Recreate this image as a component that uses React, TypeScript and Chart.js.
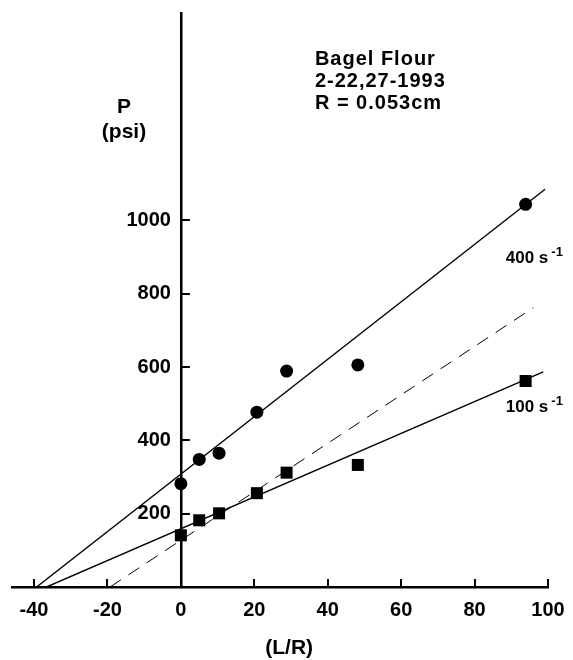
import React, { useEffect, useRef } from "react";
import { Chart, registerables } from "chart.js";

Chart.register(...registerables);

// ---- data ----
const xTickValues = [-40, -20, 0, 20, 40, 60, 80, 100];
const yTickValues = [200, 400, 600, 800, 1000];

const lOverR = [0, 5.0, 10.4, 20.7, 28.8, 48.2, 93.9];
const p400 = [282, 348, 365, 477, 589, 606, 1044];
const p100 = [141, 182, 201, 256, 312, 333, 562];

const fit400X = [-39.3, 99.2];
const fit400Y = [0, 1085];
const fit100X = [-36.6, 98.7];
const fit100Y = [0, 587];
const dashX = [-19.3, 96.0];
const dashY = [0, 762];

const titleLines = ["Bagel Flour", "2-22,27-1993", "R = 0.053cm"];
const yAxisTitle = ["P", "(psi)"];
const xAxisTitle = "(L/R)";
const rateLabels = ["400 s", "100 s"];
const rateSup = "-1";

// ---- layout / style (not data) ----
const FONT = '"Liberation Sans", Arial, Helvetica, sans-serif';
const X_MIN = -46;
const X_MAX = 100;
const Y_MAX = 1566;
const titlePos = { x: 36.5, y: [1439, 1379, 1319] };
const yTitlePos = { x: -15.5, y: [1308, 1240] };
const xTitlePos = { x: 29.5, y: -168 };
const ratePos = { x: 88.5, y: [896, 490] };

const pts = (xs: number[], ys: number[]) => xs.map((x, i) => ({ x, y: ys[i] }));

const overlay = {
  id: "overlay",
  afterDraw(chart: any) {
    const { ctx, scales } = chart;
    const xs = scales.x;
    const ys = scales.y;
    ctx.save();
    ctx.strokeStyle = "#000";
    ctx.fillStyle = "#000";
    ctx.lineWidth = 2;
    const x0 = xs.getPixelForValue(0);
    const y0 = ys.getPixelForValue(0);
    xTickValues.forEach((v) => {
      if (v === 0) return;
      const px = Math.round(xs.getPixelForValue(v));
      ctx.beginPath();
      ctx.moveTo(px, y0);
      ctx.lineTo(px, y0 - 8);
      ctx.stroke();
    });
    yTickValues.forEach((v) => {
      const py = Math.round(ys.getPixelForValue(v));
      ctx.beginPath();
      ctx.moveTo(x0, py);
      ctx.lineTo(x0 + 9, py);
      ctx.stroke();
    });

    ctx.textBaseline = "middle";
    // title block
    ctx.font = `bold 20px ${FONT}`;
    (ctx as any).letterSpacing = "1px";
    ctx.textAlign = "left";
    titleLines.forEach((t, i) => {
      ctx.fillText(t, xs.getPixelForValue(titlePos.x), ys.getPixelForValue(titlePos.y[i]));
    });
    (ctx as any).letterSpacing = "0px";
    // y axis title
    ctx.textAlign = "center";
    ctx.font = `bold 21px ${FONT}`;
    yAxisTitle.forEach((t, i) => {
      ctx.fillText(t, xs.getPixelForValue(yTitlePos.x), ys.getPixelForValue(yTitlePos.y[i]));
    });
    // x axis title
    ctx.fillText(xAxisTitle, xs.getPixelForValue(xTitlePos.x), ys.getPixelForValue(xTitlePos.y));
    // rate labels
    ctx.textAlign = "left";
    rateLabels.forEach((t, i) => {
      const px = xs.getPixelForValue(ratePos.x);
      const py = ys.getPixelForValue(ratePos.y[i]);
      ctx.font = `bold 17px ${FONT}`;
      ctx.fillText(t, px, py);
      const w = ctx.measureText(t).width;
      ctx.font = `bold 13px ${FONT}`;
      ctx.fillText(rateSup, px + w + 3, py - 6);
    });
    ctx.restore();
  },
};

export default function App() {
  const ref = useRef<HTMLCanvasElement>(null);
  useEffect(() => {
    if (!ref.current) return;
    const tickFont = { family: FONT, size: 20, weight: "bold" as const };
    const chart = new Chart(ref.current, {
      type: "scatter",
      data: {
        datasets: [
          {
            label: "400 s-1",
            data: pts(lOverR, p400),
            pointStyle: "circle",
            pointRadius: 6.5,
            backgroundColor: "#000",
            borderColor: "#000",
            borderWidth: 0,
            showLine: false,
          },
          {
            label: "100 s-1",
            data: pts(lOverR, p100),
            pointStyle: "rect",
            pointRadius: 8.5,
            backgroundColor: "#000",
            borderColor: "#000",
            borderWidth: 0,
            showLine: false,
          },
          {
            label: "fit 400",
            data: pts(fit400X, fit400Y),
            showLine: true,
            pointRadius: 0,
            borderColor: "#000",
            borderWidth: 1.4,
          },
          {
            label: "fit 100",
            data: pts(fit100X, fit100Y),
            showLine: true,
            pointRadius: 0,
            borderColor: "#000",
            borderWidth: 1.4,
          },
          {
            label: "dashed",
            data: pts(dashX, dashY),
            showLine: true,
            pointRadius: 0,
            borderColor: "#000",
            borderWidth: 1,
            borderDash: [13, 9],
          },
        ],
      },
      options: {
        animation: false,
        responsive: false,
        devicePixelRatio: 1,
        events: [],
        layout: { padding: { left: 12, right: 25, top: 13, bottom: 0 } },
        plugins: { legend: { display: false }, tooltip: { enabled: false } },
        scales: {
          x: {
            type: "linear",
            position: "bottom",
            min: X_MIN,
            max: X_MAX,
            grid: { display: false, drawTicks: false },
            border: { display: true, color: "#000", width: 2.5 },
            ticks: { color: "#000", font: tickFont, padding: 11, callback: (v: any) => String(v) },
            afterBuildTicks: (s: any) => {
              s.ticks = xTickValues.map((v) => ({ value: v }));
            },
            afterFit: (s: any) => {
              s.height = 73;
              s.paddingLeft = 0;
              s.paddingRight = 0;
            },
          },
          y: {
            type: "linear",
            position: { x: 0 } as any,
            min: 0,
            max: Y_MAX,
            grid: { display: false, drawTicks: false },
            border: { display: true, color: "#000", width: 2.5 },
            ticks: { color: "#000", font: tickFont, padding: 0, callback: (v: any) => `${v}\u2002` },
            afterBuildTicks: (s: any) => {
              s.ticks = yTickValues.map((v) => ({ value: v }));
            },
            afterFit: (s: any) => {
              s.width = 0;
              s.paddingTop = 0;
              s.paddingBottom = 0;
            },
          },
        },
      },
      plugins: [overlay],
    });
    return () => chart.destroy();
  }, []);
  return (
    <div style={{ position: "absolute", left: 0, top: 0, width: 573, height: 660, background: "#fff" }}>
      <canvas ref={ref} width={573} height={660} />
    </div>
  );
}
